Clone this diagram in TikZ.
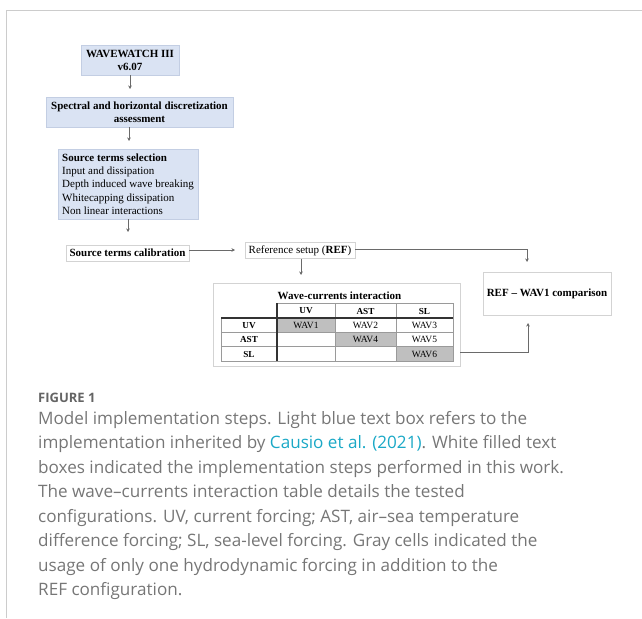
\documentclass[tikz,border=0pt]{standalone}
\usepackage{fontspec}
\setmainfont{Liberation Serif}
\newfontfamily\capfont{Open Sans}
\usetikzlibrary{arrows.meta}
\definecolor{boxblue}{HTML}{DAE3F3}
\definecolor{boxblueborder}{HTML}{C3CEE3}
\definecolor{boxgrayborder}{HTML}{D3D3D3}
\definecolor{arrowgray}{HTML}{6A6A6A}
\definecolor{framegray}{HTML}{CCCCCC}
\definecolor{cellgray}{HTML}{BFBFBF}
\definecolor{gridgray}{HTML}{9A9A9A}
\definecolor{captext}{HTML}{767676}
\definecolor{caplink}{HTML}{1AA8C6}
\begin{document}
\begin{tikzpicture}[x=1pt,y=-1pt,
  box/.style={draw, inner sep=0pt, align=center, font=\fontsize{11}{12.5}\selectfont},
  bluebox/.style={box, fill=boxblue, draw=boxblueborder, line width=0.8pt},
  whitebox/.style={box, fill=white, draw=boxgrayborder, line width=0.8pt},
  arr/.style={draw=arrowgray, line width=0.8pt, -{Stealth[length=3.5pt,width=3.5pt]}},
  cell/.style={inner sep=0pt, font=\fontsize{9.5}{10}\selectfont},
  hcell/.style={cell, font=\fontsize{9.2}{10}\selectfont\bfseries},
  capline/.style={anchor=base west, inner sep=0pt, text=captext, font=\capfont\fontsize{17.1}{20}\selectfont},
]
\useasboundingbox (0,0) rectangle (642,618);
\draw[framegray, line width=1pt] (642,11) -- (6,11) -- (6,618);

% boxes
\node[bluebox, minimum width=98pt, minimum height=30pt, font=\fontsize{11}{13}\selectfont\bfseries] (ww) at (130,60) {WAVEWATCH III\\v6.07};
\node[bluebox, minimum width=187pt, minimum height=30pt, font=\fontsize{11}{13}\selectfont\bfseries] (spec) at (139.5,112) {Spectral and horizontal discretization\\assessment};
\node[bluebox, minimum width=140pt, minimum height=70pt, align=left, font=\fontsize{11}{13.3}\selectfont] (src) at (128,184)
  {\textbf{Source terms selection}\\Input and dissipation\\Depth induced wave breaking\\Whitecapping dissipation\\Non linear interactions};
\node[whitebox, minimum width=123pt, minimum height=16pt, font=\fontsize{11}{12}\selectfont\bfseries] (cal) at (127.5,253) {Source terms calibration};
\node[whitebox, minimum width=110pt, minimum height=16pt] (ref) at (300,250.5) {Reference setup (\textbf{REF})};
\node[whitebox, minimum width=128pt, minimum height=43pt, font=\fontsize{11}{12}\selectfont\bfseries] (cmp) at (547,293.5) {REF -- WAV1 comparison};
\node[whitebox, minimum width=247pt, minimum height=83pt] (tbl) at (336.5,324.5) {};

% table
\fill[cellgray] (277,318) rectangle (335,332);
\fill[cellgray] (335,332) rectangle (396,346.5);
\fill[cellgray] (396,346.5) rectangle (453,361);
\draw[gridgray, line width=0.6pt] (277,303) -- (453,303) -- (453,361) -- (221,361) -- (221,318);
\draw[gridgray, line width=0.6pt] (335,303) -- (335,361) (396,303) -- (396,361)
  (221,332) -- (453,332) (221,346.5) -- (453,346.5);
\draw[black!80, line width=1.1pt] (221,318) -- (453,318) (277,303) -- (277,361);
\node[inner sep=0pt, font=\fontsize{11}{12}\selectfont\bfseries] (ttl) at (339.5,295.5) {Wave-currents interaction};
\node[hcell] (h1) at (306,311) {UV};
\node[hcell] (h2) at (365.5,311) {AST};
\node[hcell] (h3) at (424.5,311) {SL};
\node[hcell] (r1) at (249,325.5) {UV};
\node[hcell] (r2) at (249,339.5) {AST};
\node[hcell] (r3) at (249,354) {SL};
\node[cell] (c11) at (306,325.5) {WAV1};
\node[cell] (c12) at (365.5,325.5) {WAV2};
\node[cell] (c13) at (424.5,325.5) {WAV3};
\node[cell] (c22) at (365.5,339.5) {WAV4};
\node[cell] (c23) at (424.5,339.5) {WAV5};
\node[cell] (c33) at (424.5,354) {WAV6};

% connectors
\coordinate (a1) at (130,89);
\draw[arr] (ww.south -| a1) -- (a1);
\coordinate (a2) at (129,141);
\draw[arr] (spec.south -| a2) -- (a2);
\coordinate (a3) at (128,232);
\draw[arr] (src.south -| a3) -- (a3);
\coordinate (a4) at (235,250);
\draw[arr] (cal.east |- a4) -- (a4);
\coordinate (a5) at (301,275);
\draw[arr] (ref.south -| a5) -- (a5);
\coordinate (a6) at (527,262);
\draw[arr] (ref.east |- 0,249) -| (a6);
\coordinate (a7) at (528,323);
\draw[arr] (tbl.east |- 0,352) -| (a7);

% caption
\node[anchor=base west, inner sep=0pt, text=captext!85!black, font=\capfont\fontsize{13}{14}\selectfont\bfseries] (fig) at (38,402) {FIGURE 1};
\node[capline] (l1) at (38,424) {Model implementation steps. Light blue text box refers to the};
\node[capline] (l2) at (38,448.5) {implementation inherited by \textcolor{caplink}{Causio et al. (2021)}. White filled text};
\node[capline] (l3) at (38,473) {boxes indicated the implementation steps performed in this work.};
\node[capline] (l4) at (38,497.5) {The wave–currents interaction table details the tested};
\node[capline] (l5) at (38,522) {configurations. UV, current forcing; AST, air–sea temperature};
\node[capline] (l6) at (38,546.5) {difference forcing; SL, sea-level forcing. Gray cells indicated the};
\node[capline] (l7) at (38,571) {usage of only one hydrodynamic forcing in addition to the};
\node[capline] (l8) at (38,595) {REF configuration.};
\end{tikzpicture}
\end{document}
